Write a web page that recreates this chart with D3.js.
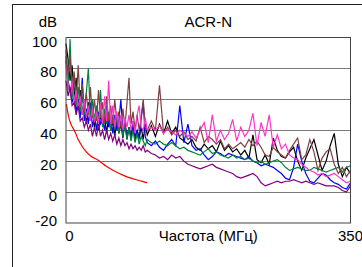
<!DOCTYPE html>
<html>
<head>
<meta charset="utf-8">
<script src="https://cdn.jsdelivr.net/npm/d3@7"></script>
<style>
  body { margin: 0; background: #fff; }
  text { font-family: "Liberation Sans", Arial, sans-serif; font-size: 15px; fill: #000; }
</style>
</head>
<body>
<div id="chart"></div>
<script>
const freq = [0,2.5,5,7.5,10,12.5,15,17.5,20,22.5,25,27.5,30,32.5,35,37.5,40,42.5,45,47.5,50,52.5,55,57.5,60,62.5,65,67.5,70,72.5,75,77.5,80,82.5,85,87.5,90,92.5,95,97.5,100,
  105,110,115,120,125,130,135,140,145,150,155,160,165,170,175,180,185,190,195,200,205,210,215,220,225,230,235,240,245,250,255,260,265,270,275,280,285,290,295,300,305,310,315,320,325,330,335,340,345,350]

const black = [96,86,72,82,62,74,54,66,50,60,44,58,46,54,42,52,40,50,44,48,38,50,40,46,36,48,38,44,35,46,34,42,36,44,33,40,35,42,34,44,37,
  43,36,44,38,46,38,42,35,33,31,34,29,27,31,28,30,26,33,27,30,26,28,24,27,22,37,21,19,24,18,35,27,23,22,26,29,20,14,22,28,34,24,14,20,30,38,18,10,16,12]
const blue = [85,72,66,58,62,52,60,48,74,46,54,44,58,42,50,40,52,44,46,40,56,42,48,38,50,40,46,60,38,44,36,42,34,46,36,40,34,48,58,36,32,
  30,33,29,27,31,34,30,56,32,44,30,27,28,24,21,23,26,25,23,25,24,23,22,21,23,20,19,17,18,17,16,14,12,9,8,16,31,20,12,7,6,9,12,11,8,6,5,3,2,6]
const green = [88,66,99,60,76,56,68,52,62,50,64,80,48,60,46,56,44,66,42,54,44,52,40,50,40,48,38,46,36,44,34,42,33,40,32,38,31,36,33,30,34,
  32,31,33,31,30,32,30,28,29,27,26,25,24,26,28,25,26,24,23,22,24,22,23,21,22,20,19,20,18,19,20,21,19,16,14,15,16,15,14,14,16,15,14,13,14,15,16,13,16,17]
const brown = [92,76,88,66,78,58,82,56,70,52,64,50,68,48,60,46,66,48,58,44,62,46,56,44,60,46,52,42,54,42,58,74,44,52,40,50,40,48,60,42,40,
  46,40,69,38,42,37,40,36,39,34,36,33,42,32,36,34,31,34,28,31,28,30,32,29,34,30,33,29,24,23,29,26,24,22,27,31,35,21,24,34,26,14,22,26,28,18,12,16,10,14]
const pink = [82,70,64,72,58,66,54,62,50,60,48,56,46,54,45,52,44,58,44,62,46,72,44,56,42,52,42,50,40,48,42,50,40,46,38,50,56,42,40,48,40,
  42,40,43,38,41,39,37,40,38,36,39,35,40,45,32,50,33,40,34,38,47,33,42,36,40,51,30,45,36,50,29,37,28,31,24,22,21,18,16,14,13,11,12,10,11,12,10,8,6,7]
const purple = [72,62,68,56,58,50,56,46,48,42,46,40,44,36,42,36,44,36,40,34,40,34,38,33,37,31,35,30,34,30,32,28,31,28,30,27,29,27,30,26,27,
  25,24,22,23,21,24,22,23,20,18,17,16,15,16,17,18,16,15,14,13,12,10,9,10,11,12,10,6,4,5,6,7,6,7,7,8,7,6,7,6,5,6,5,4,4,4,3,1,0,4]

const limitFreq = [0.5,2,4,6,8,11,15,20,25,30,40,50,60,70,80,90,100]
const limitVal = [57,52,47,44,42,39,34,29.5,26,23.5,20.5,16.5,13.5,11,9,7.5,6]

const yTicks = [100,80,60,40,20,0,-20]
const xTicks = [0,350]

const width = 362
const height = 267
const margin = { left: 66, top: 37.5, right: 11.5, bottom: 44 }

const svg = d3.select("#chart").append("svg")
  .attr("width", width)
  .attr("height", height)

svg.append("rect")
  .attr("x", 12.5).attr("y", 4.5)
  .attr("width", width).attr("height", height)
  .attr("fill", "#fff")
  .attr("stroke", "#222")

const x = d3.scaleLinear().domain([0, 350]).range([margin.left, width - margin.right])
const y = d3.scaleLinear().domain([-20, 100]).range([height - margin.bottom, margin.top])

svg.append("g")
  .selectAll("line")
  .data(yTicks.slice(1, -1))
  .join("line")
  .attr("x1", x(0)).attr("x2", x(350))
  .attr("y1", d => Math.round(y(d)) + 0.5).attr("y2", d => Math.round(y(d)) + 0.5)
  .attr("stroke", "#7a7a7a")

const line = d3.line().x((d, i) => x(freq[i])).y(d => y(d))

const series = [
  [black, "#000000"],
  [blue, "#0000ff"],
  [green, "#008040"],
  [brown, "#804040"],
  [pink, "#ff33cc"],
  [purple, "#800080"]
]

svg.append("g")
  .selectAll("path")
  .data(series)
  .join("path")
  .attr("d", d => line(d[0]))
  .attr("fill", "none")
  .attr("stroke", d => d[1])
  .attr("stroke-width", 1.2)

svg.append("path")
  .attr("d", d3.line().curve(d3.curveMonotoneX)
    .x((d, i) => x(limitFreq[i])).y(d => y(d))(limitVal))
  .attr("fill", "none")
  .attr("stroke", "#ff0000")
  .attr("stroke-width", 1.2)

svg.append("rect")
  .attr("x", x(0)).attr("y", y(100))
  .attr("width", x(350) - x(0)).attr("height", y(-20) - y(100))
  .attr("fill", "none")
  .attr("stroke", "#444")

svg.append("g")
  .selectAll("text")
  .data(yTicks)
  .join("text")
  .attr("x", 57)
  .attr("y", d => d === -20 ? y(d) + 2.5 : y(d) + 9)
  .attr("text-anchor", "end")
  .text(d => d)

svg.append("g")
  .selectAll("text")
  .data(xTicks)
  .join("text")
  .attr("x", d => d === 0 ? x(d) + 3.5 : x(d))
  .attr("y", 241)
  .attr("text-anchor", "middle")
  .text(d => d)

svg.append("text")
  .attr("x", 57).attr("y", 27)
  .attr("text-anchor", "end")
  .text("dB")

svg.append("text")
  .attr("x", (x(0) + x(350)) / 2).attr("y", 27)
  .attr("text-anchor", "middle")
  .text("ACR-N")

svg.append("text")
  .attr("x", (x(0) + x(350)) / 2).attr("y", 241)
  .attr("text-anchor", "middle")
  .text("Частота (МГц)")
</script>
</body>
</html>
